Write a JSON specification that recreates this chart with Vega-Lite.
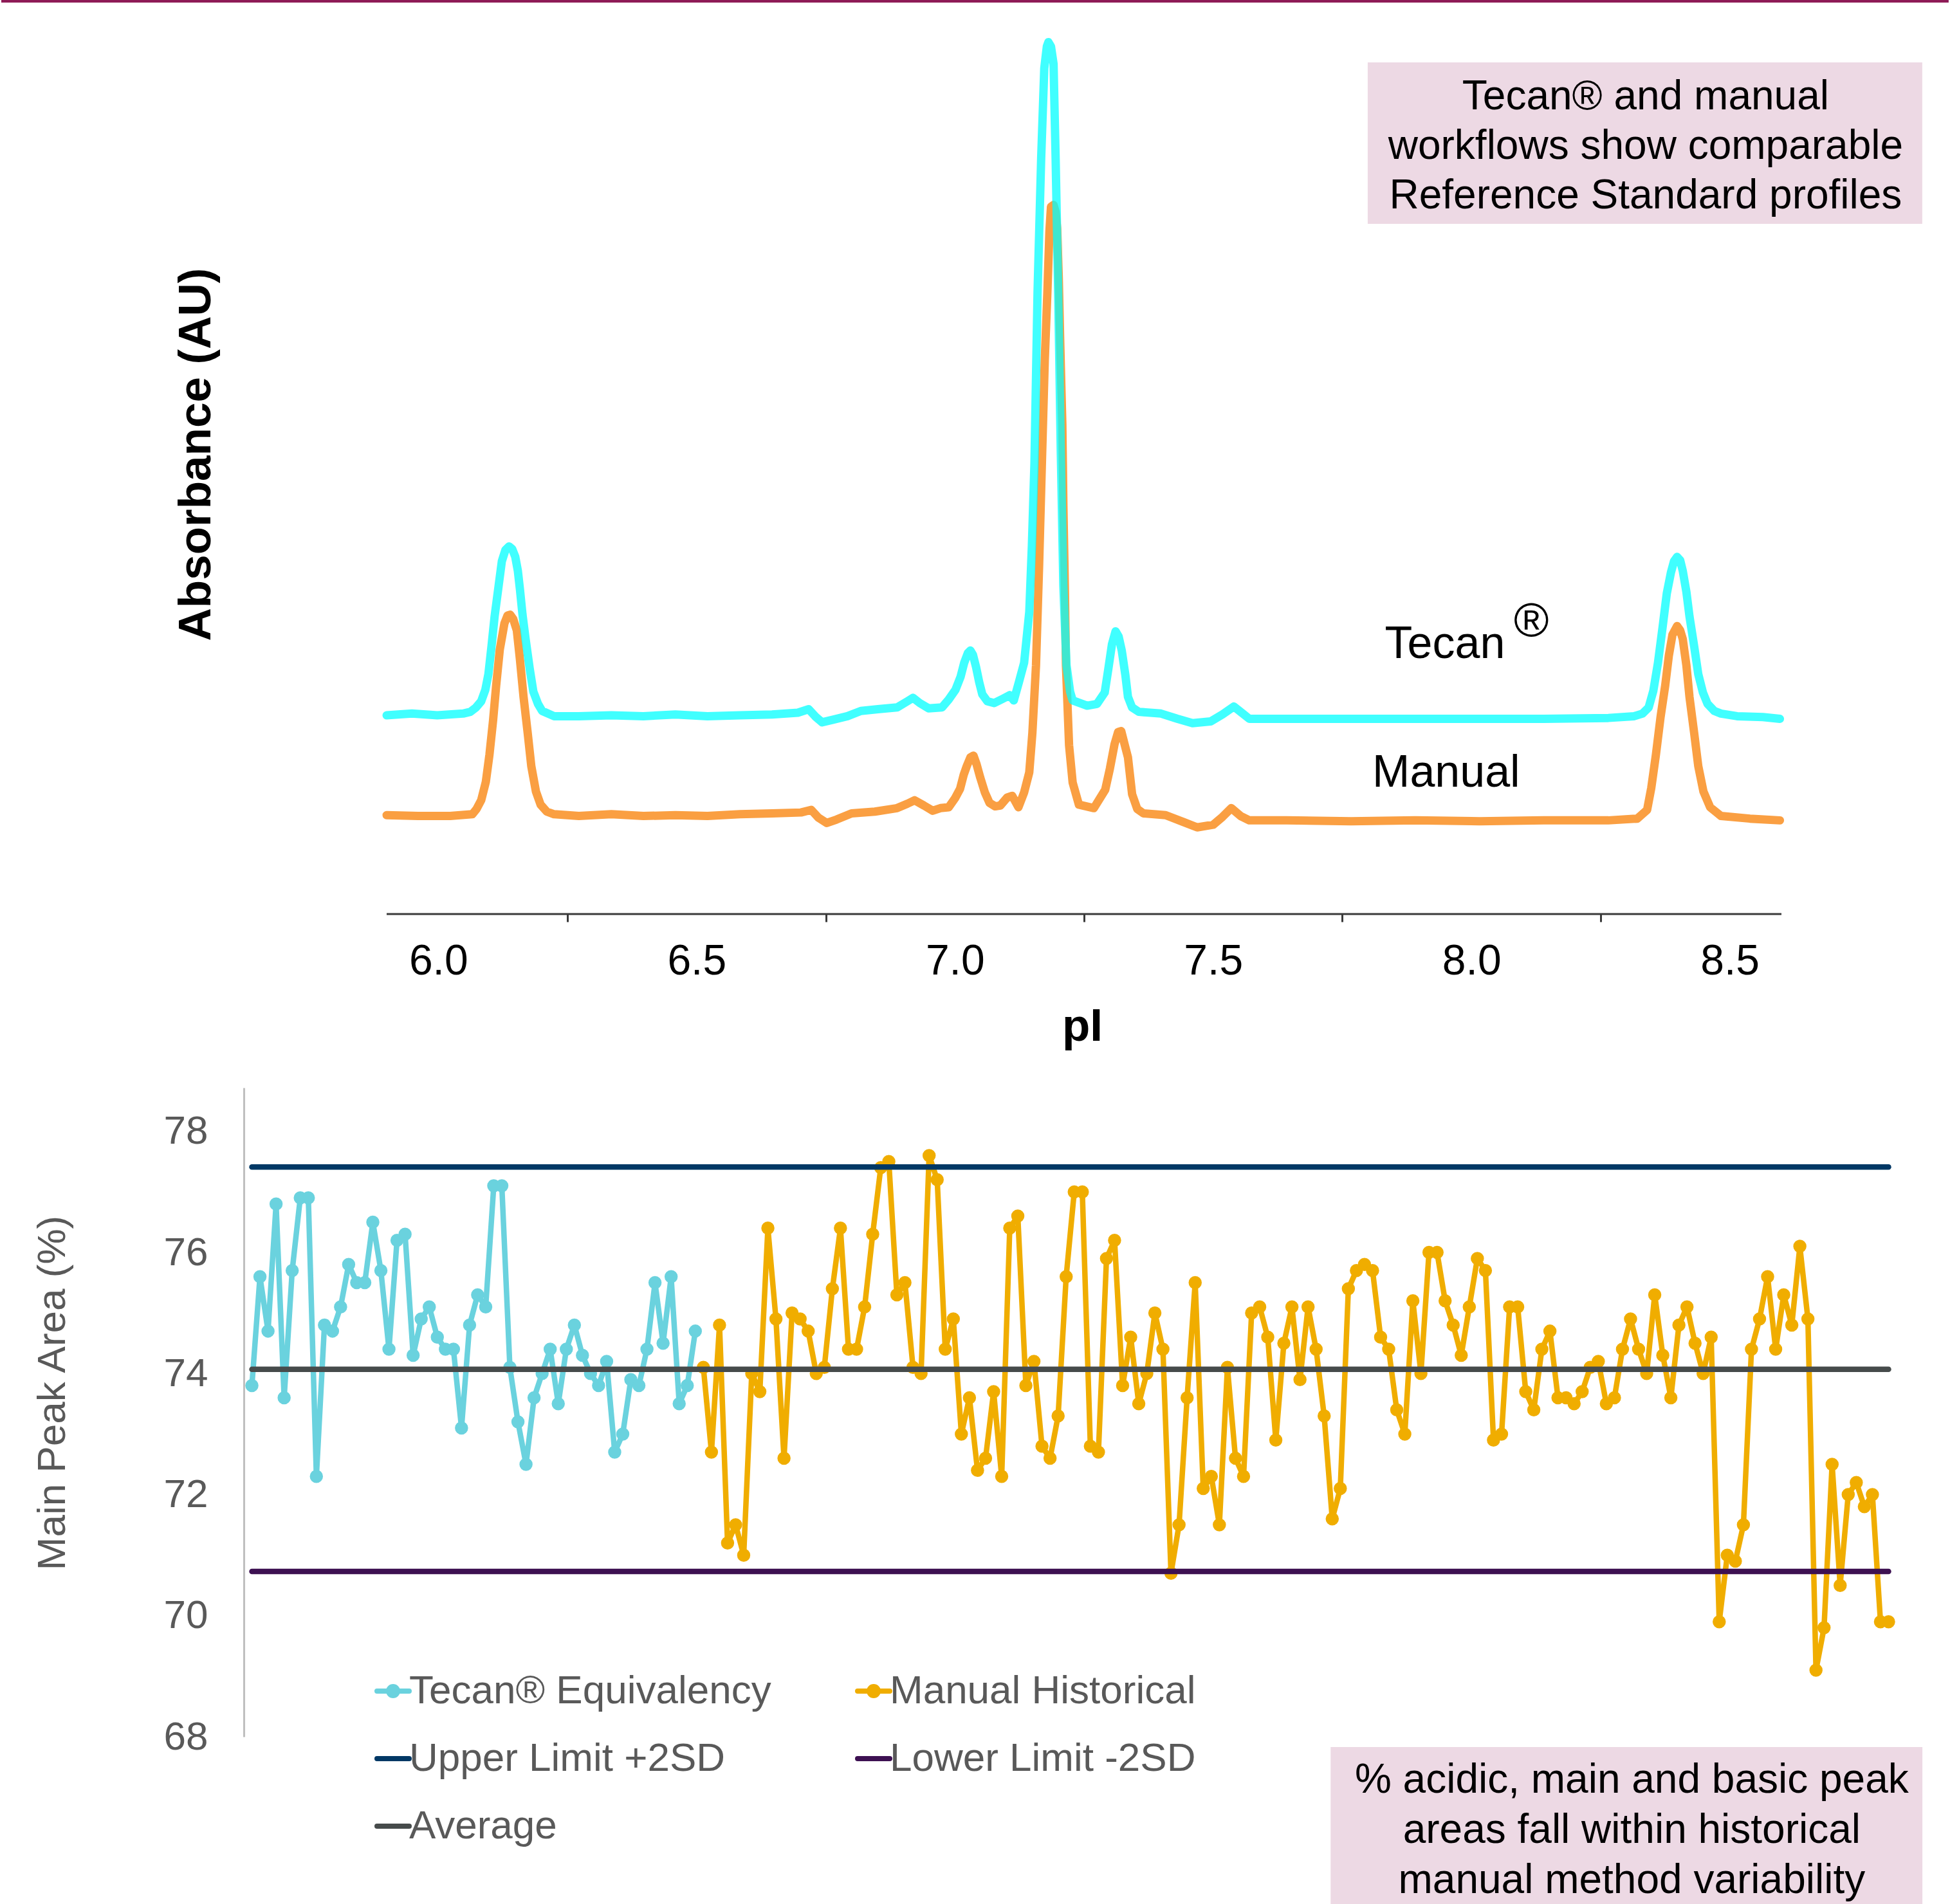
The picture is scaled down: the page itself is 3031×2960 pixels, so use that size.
{
"$schema": "https://vega.github.io/schema/vega-lite/v6.json",
"background": "white",
"padding": 0,
"autosize": {"type": "pad"},
"bounds": "flush",
"spacing": 270,
"config": {"font": "Liberation Sans", "view": {"stroke": null}, "axis": {"grid": false, "labelFont": "Liberation Sans", "titleFont": "Liberation Sans"}, "legend": {"labelFont": "Liberation Sans"}},
"resolve": {"scale": {"color": "independent"}, "legend": {"color": "independent"}},
"datasets": {
"trace": [
{"run":"Manual","pI":5.900,"au":0.113},{"run":"Manual","pI":5.961,"au":0.112},{"run":"Manual","pI":6.023,"au":0.112},{"run":"Manual","pI":6.066,"au":0.114},{"run":"Manual","pI":6.074,"au":0.120},{"run":"Manual","pI":6.083,"au":0.130},{"run":"Manual","pI":6.092,"au":0.151},{"run":"Manual","pI":6.099,"au":0.182},{"run":"Manual","pI":6.106,"au":0.221},{"run":"Manual","pI":6.112,"au":0.261},{"run":"Manual","pI":6.119,"au":0.302},{"run":"Manual","pI":6.128,"au":0.332},{"run":"Manual","pI":6.134,"au":0.341},{"run":"Manual","pI":6.139,"au":0.342},{"run":"Manual","pI":6.145,"au":0.337},{"run":"Manual","pI":6.152,"au":0.324},{"run":"Manual","pI":6.158,"au":0.291},{"run":"Manual","pI":6.165,"au":0.248},{"run":"Manual","pI":6.173,"au":0.207},{"run":"Manual","pI":6.180,"au":0.169},{"run":"Manual","pI":6.189,"au":0.140},{"run":"Manual","pI":6.198,"au":0.125},{"run":"Manual","pI":6.210,"au":0.117},{"run":"Manual","pI":6.224,"au":0.114},{"run":"Manual","pI":6.272,"au":0.112},{"run":"Manual","pI":6.335,"au":0.114},{"run":"Manual","pI":6.397,"au":0.112},{"run":"Manual","pI":6.459,"au":0.113},{"run":"Manual","pI":6.521,"au":0.112},{"run":"Manual","pI":6.584,"au":0.114},{"run":"Manual","pI":6.646,"au":0.115},{"run":"Manual","pI":6.702,"au":0.116},{"run":"Manual","pI":6.722,"au":0.119},{"run":"Manual","pI":6.736,"au":0.110},{"run":"Manual","pI":6.752,"au":0.104},{"run":"Manual","pI":6.771,"au":0.108},{"run":"Manual","pI":6.800,"au":0.115},{"run":"Manual","pI":6.845,"au":0.117},{"run":"Manual","pI":6.888,"au":0.121},{"run":"Manual","pI":6.908,"au":0.126},{"run":"Manual","pI":6.922,"au":0.130},{"run":"Manual","pI":6.940,"au":0.124},{"run":"Manual","pI":6.957,"au":0.118},{"run":"Manual","pI":6.972,"au":0.121},{"run":"Manual","pI":6.988,"au":0.122},{"run":"Manual","pI":7.000,"au":0.132},{"run":"Manual","pI":7.010,"au":0.143},{"run":"Manual","pI":7.017,"au":0.159},{"run":"Manual","pI":7.023,"au":0.169},{"run":"Manual","pI":7.030,"au":0.179},{"run":"Manual","pI":7.036,"au":0.181},{"run":"Manual","pI":7.042,"au":0.171},{"run":"Manual","pI":7.049,"au":0.156},{"run":"Manual","pI":7.058,"au":0.139},{"run":"Manual","pI":7.067,"au":0.127},{"run":"Manual","pI":7.078,"au":0.123},{"run":"Manual","pI":7.088,"au":0.124},{"run":"Manual","pI":7.101,"au":0.133},{"run":"Manual","pI":7.111,"au":0.135},{"run":"Manual","pI":7.123,"au":0.122},{"run":"Manual","pI":7.134,"au":0.139},{"run":"Manual","pI":7.144,"au":0.162},{"run":"Manual","pI":7.150,"au":0.207},{"run":"Manual","pI":7.157,"au":0.284},{"run":"Manual","pI":7.163,"au":0.398},{"run":"Manual","pI":7.169,"au":0.528},{"run":"Manual","pI":7.174,"au":0.633},{"run":"Manual","pI":7.179,"au":0.710},{"run":"Manual","pI":7.183,"au":0.780},{"run":"Manual","pI":7.186,"au":0.808},{"run":"Manual","pI":7.191,"au":0.810},{"run":"Manual","pI":7.195,"au":0.802},{"run":"Manual","pI":7.198,"au":0.783},{"run":"Manual","pI":7.201,"au":0.728},{"run":"Manual","pI":7.204,"au":0.650},{"run":"Manual","pI":7.208,"au":0.559},{"run":"Manual","pI":7.210,"au":0.467},{"run":"Manual","pI":7.213,"au":0.368},{"run":"Manual","pI":7.215,"au":0.284},{"run":"Manual","pI":7.221,"au":0.193},{"run":"Manual","pI":7.228,"au":0.150},{"run":"Manual","pI":7.240,"au":0.125},{"run":"Manual","pI":7.269,"au":0.121},{"run":"Manual","pI":7.291,"au":0.142},{"run":"Manual","pI":7.300,"au":0.166},{"run":"Manual","pI":7.309,"au":0.194},{"run":"Manual","pI":7.316,"au":0.208},{"run":"Manual","pI":7.322,"au":0.209},{"run":"Manual","pI":7.328,"au":0.195},{"run":"Manual","pI":7.335,"au":0.179},{"run":"Manual","pI":7.343,"au":0.137},{"run":"Manual","pI":7.353,"au":0.120},{"run":"Manual","pI":7.365,"au":0.115},{"run":"Manual","pI":7.408,"au":0.113},{"run":"Manual","pI":7.443,"au":0.105},{"run":"Manual","pI":7.469,"au":0.099},{"run":"Manual","pI":7.500,"au":0.102},{"run":"Manual","pI":7.518,"au":0.111},{"run":"Manual","pI":7.535,"au":0.121},{"run":"Manual","pI":7.553,"au":0.112},{"run":"Manual","pI":7.570,"au":0.107},{"run":"Manual","pI":7.642,"au":0.107},{"run":"Manual","pI":7.767,"au":0.106},{"run":"Manual","pI":7.891,"au":0.107},{"run":"Manual","pI":8.016,"au":0.106},{"run":"Manual","pI":8.140,"au":0.107},{"run":"Manual","pI":8.265,"au":0.107},{"run":"Manual","pI":8.321,"au":0.109},{"run":"Manual","pI":8.340,"au":0.119},{"run":"Manual","pI":8.348,"au":0.144},{"run":"Manual","pI":8.357,"au":0.182},{"run":"Manual","pI":8.366,"au":0.225},{"run":"Manual","pI":8.375,"au":0.261},{"run":"Manual","pI":8.382,"au":0.295},{"run":"Manual","pI":8.389,"au":0.319},{"run":"Manual","pI":8.398,"au":0.329},{"run":"Manual","pI":8.404,"au":0.324},{"run":"Manual","pI":8.409,"au":0.314},{"run":"Manual","pI":8.416,"au":0.284},{"run":"Manual","pI":8.422,"au":0.248},{"run":"Manual","pI":8.431,"au":0.207},{"run":"Manual","pI":8.439,"au":0.169},{"run":"Manual","pI":8.449,"au":0.140},{"run":"Manual","pI":8.462,"au":0.122},{"run":"Manual","pI":8.483,"au":0.112},{"run":"Manual","pI":8.539,"au":0.109},{"run":"Manual","pI":8.597,"au":0.107},
{"run":"Tecan","pI":5.900,"au":0.227},{"run":"Tecan","pI":5.949,"au":0.229},{"run":"Tecan","pI":5.998,"au":0.227},{"run":"Tecan","pI":6.048,"au":0.229},{"run":"Tecan","pI":6.062,"au":0.231},{"run":"Tecan","pI":6.073,"au":0.236},{"run":"Tecan","pI":6.083,"au":0.243},{"run":"Tecan","pI":6.091,"au":0.256},{"run":"Tecan","pI":6.097,"au":0.274},{"run":"Tecan","pI":6.103,"au":0.306},{"run":"Tecan","pI":6.109,"au":0.340},{"run":"Tecan","pI":6.117,"au":0.376},{"run":"Tecan","pI":6.123,"au":0.403},{"run":"Tecan","pI":6.130,"au":0.416},{"run":"Tecan","pI":6.137,"au":0.420},{"run":"Tecan","pI":6.143,"au":0.417},{"run":"Tecan","pI":6.149,"au":0.408},{"run":"Tecan","pI":6.154,"au":0.392},{"run":"Tecan","pI":6.158,"au":0.371},{"run":"Tecan","pI":6.163,"au":0.342},{"run":"Tecan","pI":6.169,"au":0.314},{"run":"Tecan","pI":6.177,"au":0.280},{"run":"Tecan","pI":6.184,"au":0.254},{"run":"Tecan","pI":6.193,"au":0.240},{"run":"Tecan","pI":6.201,"au":0.232},{"run":"Tecan","pI":6.224,"au":0.226},{"run":"Tecan","pI":6.272,"au":0.226},{"run":"Tecan","pI":6.335,"au":0.227},{"run":"Tecan","pI":6.397,"au":0.226},{"run":"Tecan","pI":6.459,"au":0.228},{"run":"Tecan","pI":6.521,"au":0.226},{"run":"Tecan","pI":6.584,"au":0.227},{"run":"Tecan","pI":6.646,"au":0.228},{"run":"Tecan","pI":6.696,"au":0.230},{"run":"Tecan","pI":6.717,"au":0.234},{"run":"Tecan","pI":6.731,"au":0.225},{"run":"Tecan","pI":6.743,"au":0.219},{"run":"Tecan","pI":6.764,"au":0.222},{"run":"Tecan","pI":6.792,"au":0.226},{"run":"Tecan","pI":6.818,"au":0.232},{"run":"Tecan","pI":6.851,"au":0.234},{"run":"Tecan","pI":6.888,"au":0.236},{"run":"Tecan","pI":6.908,"au":0.243},{"run":"Tecan","pI":6.919,"au":0.247},{"run":"Tecan","pI":6.932,"au":0.241},{"run":"Tecan","pI":6.949,"au":0.235},{"run":"Tecan","pI":6.975,"au":0.236},{"run":"Tecan","pI":6.988,"au":0.245},{"run":"Tecan","pI":7.001,"au":0.256},{"run":"Tecan","pI":7.011,"au":0.271},{"run":"Tecan","pI":7.018,"au":0.287},{"run":"Tecan","pI":7.025,"au":0.298},{"run":"Tecan","pI":7.030,"au":0.301},{"run":"Tecan","pI":7.035,"au":0.296},{"run":"Tecan","pI":7.041,"au":0.282},{"run":"Tecan","pI":7.047,"au":0.265},{"run":"Tecan","pI":7.053,"au":0.251},{"run":"Tecan","pI":7.063,"au":0.243},{"run":"Tecan","pI":7.076,"au":0.241},{"run":"Tecan","pI":7.093,"au":0.246},{"run":"Tecan","pI":7.106,"au":0.250},{"run":"Tecan","pI":7.114,"au":0.244},{"run":"Tecan","pI":7.124,"au":0.265},{"run":"Tecan","pI":7.134,"au":0.287},{"run":"Tecan","pI":7.144,"au":0.345},{"run":"Tecan","pI":7.149,"au":0.420},{"run":"Tecan","pI":7.154,"au":0.515},{"run":"Tecan","pI":7.160,"au":0.710},{"run":"Tecan","pI":7.167,"au":0.863},{"run":"Tecan","pI":7.173,"au":0.966},{"run":"Tecan","pI":7.178,"au":0.991},{"run":"Tecan","pI":7.181,"au":0.996},{"run":"Tecan","pI":7.186,"au":0.991},{"run":"Tecan","pI":7.191,"au":0.971},{"run":"Tecan","pI":7.195,"au":0.863},{"run":"Tecan","pI":7.200,"au":0.710},{"run":"Tecan","pI":7.205,"au":0.528},{"run":"Tecan","pI":7.210,"au":0.375},{"run":"Tecan","pI":7.216,"au":0.284},{"run":"Tecan","pI":7.223,"au":0.254},{"run":"Tecan","pI":7.228,"au":0.244},{"run":"Tecan","pI":7.256,"au":0.238},{"run":"Tecan","pI":7.275,"au":0.240},{"run":"Tecan","pI":7.290,"au":0.253},{"run":"Tecan","pI":7.297,"au":0.280},{"run":"Tecan","pI":7.304,"au":0.308},{"run":"Tecan","pI":7.311,"au":0.323},{"run":"Tecan","pI":7.317,"au":0.317},{"run":"Tecan","pI":7.323,"au":0.301},{"run":"Tecan","pI":7.330,"au":0.273},{"run":"Tecan","pI":7.335,"au":0.248},{"run":"Tecan","pI":7.343,"au":0.236},{"run":"Tecan","pI":7.356,"au":0.231},{"run":"Tecan","pI":7.399,"au":0.229},{"run":"Tecan","pI":7.431,"au":0.223},{"run":"Tecan","pI":7.460,"au":0.218},{"run":"Tecan","pI":7.495,"au":0.220},{"run":"Tecan","pI":7.518,"au":0.228},{"run":"Tecan","pI":7.540,"au":0.237},{"run":"Tecan","pI":7.555,"au":0.230},{"run":"Tecan","pI":7.570,"au":0.223},{"run":"Tecan","pI":7.642,"au":0.223},{"run":"Tecan","pI":7.767,"au":0.223},{"run":"Tecan","pI":7.891,"au":0.223},{"run":"Tecan","pI":8.016,"au":0.223},{"run":"Tecan","pI":8.140,"au":0.223},{"run":"Tecan","pI":8.265,"au":0.224},{"run":"Tecan","pI":8.315,"au":0.226},{"run":"Tecan","pI":8.331,"au":0.229},{"run":"Tecan","pI":8.343,"au":0.236},{"run":"Tecan","pI":8.352,"au":0.255},{"run":"Tecan","pI":8.361,"au":0.287},{"run":"Tecan","pI":8.370,"au":0.328},{"run":"Tecan","pI":8.378,"au":0.366},{"run":"Tecan","pI":8.386,"au":0.390},{"run":"Tecan","pI":8.392,"au":0.403},{"run":"Tecan","pI":8.398,"au":0.408},{"run":"Tecan","pI":8.404,"au":0.404},{"run":"Tecan","pI":8.409,"au":0.392},{"run":"Tecan","pI":8.416,"au":0.368},{"run":"Tecan","pI":8.422,"au":0.340},{"run":"Tecan","pI":8.431,"au":0.306},{"run":"Tecan","pI":8.439,"au":0.274},{"run":"Tecan","pI":8.448,"au":0.253},{"run":"Tecan","pI":8.457,"au":0.240},{"run":"Tecan","pI":8.470,"au":0.232},{"run":"Tecan","pI":8.483,"au":0.229},{"run":"Tecan","pI":8.514,"au":0.226},{"run":"Tecan","pI":8.564,"au":0.225},{"run":"Tecan","pI":8.597,"au":0.223}
],
"control": [
{"index":1,"area":73.8,"series":"Tecan® Equivalency"},{"index":2,"area":75.6,"series":"Tecan® Equivalency"},{"index":3,"area":74.7,"series":"Tecan® Equivalency"},{"index":4,"area":76.8,"series":"Tecan® Equivalency"},{"index":5,"area":73.6,"series":"Tecan® Equivalency"},{"index":6,"area":75.7,"series":"Tecan® Equivalency"},{"index":7,"area":76.9,"series":"Tecan® Equivalency"},{"index":8,"area":76.9,"series":"Tecan® Equivalency"},{"index":9,"area":72.3,"series":"Tecan® Equivalency"},{"index":10,"area":74.8,"series":"Tecan® Equivalency"},
{"index":11,"area":74.7,"series":"Tecan® Equivalency"},{"index":12,"area":75.1,"series":"Tecan® Equivalency"},{"index":13,"area":75.8,"series":"Tecan® Equivalency"},{"index":14,"area":75.5,"series":"Tecan® Equivalency"},{"index":15,"area":75.5,"series":"Tecan® Equivalency"},{"index":16,"area":76.5,"series":"Tecan® Equivalency"},{"index":17,"area":75.7,"series":"Tecan® Equivalency"},{"index":18,"area":74.4,"series":"Tecan® Equivalency"},{"index":19,"area":76.2,"series":"Tecan® Equivalency"},{"index":20,"area":76.3,"series":"Tecan® Equivalency"},
{"index":21,"area":74.3,"series":"Tecan® Equivalency"},{"index":22,"area":74.9,"series":"Tecan® Equivalency"},{"index":23,"area":75.1,"series":"Tecan® Equivalency"},{"index":24,"area":74.6,"series":"Tecan® Equivalency"},{"index":25,"area":74.4,"series":"Tecan® Equivalency"},{"index":26,"area":74.4,"series":"Tecan® Equivalency"},{"index":27,"area":73.1,"series":"Tecan® Equivalency"},{"index":28,"area":74.8,"series":"Tecan® Equivalency"},{"index":29,"area":75.3,"series":"Tecan® Equivalency"},{"index":30,"area":75.1,"series":"Tecan® Equivalency"},
{"index":31,"area":77.1,"series":"Tecan® Equivalency"},{"index":32,"area":77.1,"series":"Tecan® Equivalency"},{"index":33,"area":74.1,"series":"Tecan® Equivalency"},{"index":34,"area":73.2,"series":"Tecan® Equivalency"},{"index":35,"area":72.5,"series":"Tecan® Equivalency"},{"index":36,"area":73.6,"series":"Tecan® Equivalency"},{"index":37,"area":74.0,"series":"Tecan® Equivalency"},{"index":38,"area":74.4,"series":"Tecan® Equivalency"},{"index":39,"area":73.5,"series":"Tecan® Equivalency"},{"index":40,"area":74.4,"series":"Tecan® Equivalency"},
{"index":41,"area":74.8,"series":"Tecan® Equivalency"},{"index":42,"area":74.3,"series":"Tecan® Equivalency"},{"index":43,"area":74.0,"series":"Tecan® Equivalency"},{"index":44,"area":73.8,"series":"Tecan® Equivalency"},{"index":45,"area":74.2,"series":"Tecan® Equivalency"},{"index":46,"area":72.7,"series":"Tecan® Equivalency"},{"index":47,"area":73.0,"series":"Tecan® Equivalency"},{"index":48,"area":73.9,"series":"Tecan® Equivalency"},{"index":49,"area":73.8,"series":"Tecan® Equivalency"},{"index":50,"area":74.4,"series":"Tecan® Equivalency"},
{"index":51,"area":75.5,"series":"Tecan® Equivalency"},{"index":52,"area":74.5,"series":"Tecan® Equivalency"},{"index":53,"area":75.6,"series":"Tecan® Equivalency"},{"index":54,"area":73.5,"series":"Tecan® Equivalency"},{"index":55,"area":73.8,"series":"Tecan® Equivalency"},{"index":56,"area":74.7,"series":"Tecan® Equivalency"},
{"index":57,"area":74.1,"series":"Manual Historical"},{"index":58,"area":72.7,"series":"Manual Historical"},{"index":59,"area":74.8,"series":"Manual Historical"},{"index":60,"area":71.2,"series":"Manual Historical"},{"index":61,"area":71.5,"series":"Manual Historical"},{"index":62,"area":71.0,"series":"Manual Historical"},{"index":63,"area":74.0,"series":"Manual Historical"},{"index":64,"area":73.7,"series":"Manual Historical"},{"index":65,"area":76.4,"series":"Manual Historical"},{"index":66,"area":74.9,"series":"Manual Historical"},
{"index":67,"area":72.6,"series":"Manual Historical"},{"index":68,"area":75.0,"series":"Manual Historical"},{"index":69,"area":74.9,"series":"Manual Historical"},{"index":70,"area":74.7,"series":"Manual Historical"},{"index":71,"area":74.0,"series":"Manual Historical"},{"index":72,"area":74.1,"series":"Manual Historical"},{"index":73,"area":75.4,"series":"Manual Historical"},{"index":74,"area":76.4,"series":"Manual Historical"},{"index":75,"area":74.4,"series":"Manual Historical"},{"index":76,"area":74.4,"series":"Manual Historical"},
{"index":77,"area":75.1,"series":"Manual Historical"},{"index":78,"area":76.3,"series":"Manual Historical"},{"index":79,"area":77.4,"series":"Manual Historical"},{"index":80,"area":77.5,"series":"Manual Historical"},{"index":81,"area":75.3,"series":"Manual Historical"},{"index":82,"area":75.5,"series":"Manual Historical"},{"index":83,"area":74.1,"series":"Manual Historical"},{"index":84,"area":74.0,"series":"Manual Historical"},{"index":85,"area":77.6,"series":"Manual Historical"},{"index":86,"area":77.2,"series":"Manual Historical"},
{"index":87,"area":74.4,"series":"Manual Historical"},{"index":88,"area":74.9,"series":"Manual Historical"},{"index":89,"area":73.0,"series":"Manual Historical"},{"index":90,"area":73.6,"series":"Manual Historical"},{"index":91,"area":72.4,"series":"Manual Historical"},{"index":92,"area":72.6,"series":"Manual Historical"},{"index":93,"area":73.7,"series":"Manual Historical"},{"index":94,"area":72.3,"series":"Manual Historical"},{"index":95,"area":76.4,"series":"Manual Historical"},{"index":96,"area":76.6,"series":"Manual Historical"},
{"index":97,"area":73.8,"series":"Manual Historical"},{"index":98,"area":74.2,"series":"Manual Historical"},{"index":99,"area":72.8,"series":"Manual Historical"},{"index":100,"area":72.6,"series":"Manual Historical"},{"index":101,"area":73.3,"series":"Manual Historical"},{"index":102,"area":75.6,"series":"Manual Historical"},{"index":103,"area":77.0,"series":"Manual Historical"},{"index":104,"area":77.0,"series":"Manual Historical"},{"index":105,"area":72.8,"series":"Manual Historical"},{"index":106,"area":72.7,"series":"Manual Historical"},
{"index":107,"area":75.9,"series":"Manual Historical"},{"index":108,"area":76.2,"series":"Manual Historical"},{"index":109,"area":73.8,"series":"Manual Historical"},{"index":110,"area":74.6,"series":"Manual Historical"},{"index":111,"area":73.5,"series":"Manual Historical"},{"index":112,"area":74.0,"series":"Manual Historical"},{"index":113,"area":75.0,"series":"Manual Historical"},{"index":114,"area":74.4,"series":"Manual Historical"},{"index":115,"area":70.7,"series":"Manual Historical"},{"index":116,"area":71.5,"series":"Manual Historical"},
{"index":117,"area":73.6,"series":"Manual Historical"},{"index":118,"area":75.5,"series":"Manual Historical"},{"index":119,"area":72.1,"series":"Manual Historical"},{"index":120,"area":72.3,"series":"Manual Historical"},{"index":121,"area":71.5,"series":"Manual Historical"},{"index":122,"area":74.1,"series":"Manual Historical"},{"index":123,"area":72.6,"series":"Manual Historical"},{"index":124,"area":72.3,"series":"Manual Historical"},{"index":125,"area":75.0,"series":"Manual Historical"},{"index":126,"area":75.1,"series":"Manual Historical"},
{"index":127,"area":74.6,"series":"Manual Historical"},{"index":128,"area":72.9,"series":"Manual Historical"},{"index":129,"area":74.5,"series":"Manual Historical"},{"index":130,"area":75.1,"series":"Manual Historical"},{"index":131,"area":73.9,"series":"Manual Historical"},{"index":132,"area":75.1,"series":"Manual Historical"},{"index":133,"area":74.4,"series":"Manual Historical"},{"index":134,"area":73.3,"series":"Manual Historical"},{"index":135,"area":71.6,"series":"Manual Historical"},{"index":136,"area":72.1,"series":"Manual Historical"},
{"index":137,"area":75.4,"series":"Manual Historical"},{"index":138,"area":75.7,"series":"Manual Historical"},{"index":139,"area":75.8,"series":"Manual Historical"},{"index":140,"area":75.7,"series":"Manual Historical"},{"index":141,"area":74.6,"series":"Manual Historical"},{"index":142,"area":74.4,"series":"Manual Historical"},{"index":143,"area":73.4,"series":"Manual Historical"},{"index":144,"area":73.0,"series":"Manual Historical"},{"index":145,"area":75.2,"series":"Manual Historical"},{"index":146,"area":74.0,"series":"Manual Historical"},
{"index":147,"area":76.0,"series":"Manual Historical"},{"index":148,"area":76.0,"series":"Manual Historical"},{"index":149,"area":75.2,"series":"Manual Historical"},{"index":150,"area":74.8,"series":"Manual Historical"},{"index":151,"area":74.3,"series":"Manual Historical"},{"index":152,"area":75.1,"series":"Manual Historical"},{"index":153,"area":75.9,"series":"Manual Historical"},{"index":154,"area":75.7,"series":"Manual Historical"},{"index":155,"area":72.9,"series":"Manual Historical"},{"index":156,"area":73.0,"series":"Manual Historical"},
{"index":157,"area":75.1,"series":"Manual Historical"},{"index":158,"area":75.1,"series":"Manual Historical"},{"index":159,"area":73.7,"series":"Manual Historical"},{"index":160,"area":73.4,"series":"Manual Historical"},{"index":161,"area":74.4,"series":"Manual Historical"},{"index":162,"area":74.7,"series":"Manual Historical"},{"index":163,"area":73.6,"series":"Manual Historical"},{"index":164,"area":73.6,"series":"Manual Historical"},{"index":165,"area":73.5,"series":"Manual Historical"},{"index":166,"area":73.7,"series":"Manual Historical"},
{"index":167,"area":74.1,"series":"Manual Historical"},{"index":168,"area":74.2,"series":"Manual Historical"},{"index":169,"area":73.5,"series":"Manual Historical"},{"index":170,"area":73.6,"series":"Manual Historical"},{"index":171,"area":74.4,"series":"Manual Historical"},{"index":172,"area":74.9,"series":"Manual Historical"},{"index":173,"area":74.4,"series":"Manual Historical"},{"index":174,"area":74.0,"series":"Manual Historical"},{"index":175,"area":75.3,"series":"Manual Historical"},{"index":176,"area":74.3,"series":"Manual Historical"},
{"index":177,"area":73.6,"series":"Manual Historical"},{"index":178,"area":74.8,"series":"Manual Historical"},{"index":179,"area":75.1,"series":"Manual Historical"},{"index":180,"area":74.5,"series":"Manual Historical"},{"index":181,"area":74.0,"series":"Manual Historical"},{"index":182,"area":74.6,"series":"Manual Historical"},{"index":183,"area":69.9,"series":"Manual Historical"},{"index":184,"area":71.0,"series":"Manual Historical"},{"index":185,"area":70.9,"series":"Manual Historical"},{"index":186,"area":71.5,"series":"Manual Historical"},
{"index":187,"area":74.4,"series":"Manual Historical"},{"index":188,"area":74.9,"series":"Manual Historical"},{"index":189,"area":75.6,"series":"Manual Historical"},{"index":190,"area":74.4,"series":"Manual Historical"},{"index":191,"area":75.3,"series":"Manual Historical"},{"index":192,"area":74.8,"series":"Manual Historical"},{"index":193,"area":76.1,"series":"Manual Historical"},{"index":194,"area":74.9,"series":"Manual Historical"},{"index":195,"area":69.1,"series":"Manual Historical"},{"index":196,"area":69.8,"series":"Manual Historical"},
{"index":197,"area":72.5,"series":"Manual Historical"},{"index":198,"area":70.5,"series":"Manual Historical"},{"index":199,"area":72.0,"series":"Manual Historical"},{"index":200,"area":72.2,"series":"Manual Historical"},{"index":201,"area":71.8,"series":"Manual Historical"},{"index":202,"area":72.0,"series":"Manual Historical"},{"index":203,"area":69.9,"series":"Manual Historical"},{"index":204,"area":69.9,"series":"Manual Historical"}
],
"limits": [
{"series":"Upper Limit +2SD","area":77.41},
{"series":"Lower Limit -2SD","area":70.73},
{"series":"Average","area":74.07}
]
},
"vconcat": [
{
"width": 2390,
"height": 1361,
"layer": [
{"data": {"values": [{}]}, "mark": {"type": "rule", "color": "#8E1B57", "strokeWidth": 4}, "encoding": {"x": {"datum": 5.15405, "type": "quantitative", "scale": {"domain": [5.62354, 8.6], "nice": false, "zero": false}}, "x2": {"datum": 8.92366}, "y": {"datum": 1.0426, "type": "quantitative", "scale": {"domain": [0, 1], "nice": false, "zero": false}}}},
{"data": {"values": [{}]}, "mark": {"type": "rect", "color": "#EDD9E4"}, "encoding": {"x": {"datum": 7.7991, "type": "quantitative", "scale": {"domain": [5.62354, 8.6], "nice": false, "zero": false}}, "x2": {"datum": 8.8726}, "y": {"datum": 0.9728, "type": "quantitative", "scale": {"domain": [0, 1], "nice": false, "zero": false}}, "y2": {"datum": 0.7884}}},
{"data": {"values": [{}]}, "mark": {"type": "text", "font": "Liberation Sans", "fontSize": 64, "color": "#000000", "align": "center", "baseline": "middle", "lineHeight": 77}, "encoding": {"x": {"datum": 8.3371, "type": "quantitative", "scale": {"domain": [5.62354, 8.6], "nice": false, "zero": false}}, "y": {"datum": 0.9332, "type": "quantitative", "scale": {"domain": [0, 1], "nice": false, "zero": false}}, "text": {"value": ["Tecan® and manual", "workflows show comparable", "Reference Standard profiles"]}}},
{"data": {"name": "trace"}, "transform": [{"filter": "datum.run === 'Manual'"}], "mark": {"type": "line", "color": "#FA9F42", "strokeWidth": 13, "strokeJoin": "round", "strokeCap": "round"},
 "encoding": {
  "x": {"field": "pI", "type": "quantitative", "scale": {"domain": [5.62354, 8.6], "nice": false, "zero": false},
   "axis": {"values": [6, 6.25, 6.5, 6.75, 7, 7.25, 7.5, 7.75, 8, 8.25, 8.5], "labelExpr": "datum.value % 0.5 === 0 ? format(datum.value, '.1f') : ''", "domain": false, "ticks": true, "tickSize": 12, "tickWidth": 3, "tickColor": "#3A3A3A", "tickOpacity": {"condition": {"test": "datum.value % 0.5 === 0", "value": 0}, "value": 1}, "labelFontSize": 66, "labelColor": "#000000", "labelPadding": 61, "labelBaseline": "middle", "labelOverlap": false, "labelFlush": false, "grid": false, "title": "pI", "titleFontSize": 71, "titleFontWeight": "bold", "titleColor": "#000000", "titleX": 1303, "titleY": 175, "titleBaseline": "middle", "titleAlign": "center"}},
  "y": {"field": "au", "type": "quantitative", "scale": {"domain": [0, 1], "nice": false, "zero": false},
   "axis": {"labels": false, "ticks": false, "domain": false, "grid": false, "title": "Absorbance (AU)", "titleFontSize": 71, "titleFontWeight": "bold", "titleColor": "#000000", "titleX": -74, "titleY": 646, "titleBaseline": "middle", "titleAlign": "center", "titleAngle": -90}}
 }},
{"data": {"name": "trace"}, "transform": [{"filter": "datum.run === 'Tecan'"}], "mark": {"type": "line", "color": "#00FFFF", "opacity": 0.75, "strokeWidth": 13, "strokeJoin": "round", "strokeCap": "round"},
 "encoding": {
  "x": {"field": "pI", "type": "quantitative", "scale": {"domain": [5.62354, 8.6], "nice": false, "zero": false}},
  "y": {"field": "au", "type": "quantitative", "scale": {"domain": [0, 1], "nice": false, "zero": false}}
 }},
{"data": {"values": [{}]}, "mark": {"type": "rule", "color": "#3A3A3A", "strokeWidth": 3}, "encoding": {"x": {"datum": 5.9, "type": "quantitative", "scale": {"domain": [5.62354, 8.6], "nice": false, "zero": false}}, "x2": {"datum": 8.6}, "y": {"datum": 0, "type": "quantitative", "scale": {"domain": [0, 1], "nice": false, "zero": false}}}},
{"data": {"values": [{}]}, "mark": {"type": "text", "text": "Tecan", "font": "Liberation Sans", "fontSize": 70, "color": "#000000", "align": "center", "baseline": "alphabetic"}, "encoding": {"x": {"datum": 7.9486, "type": "quantitative", "scale": {"domain": [5.62354, 8.6], "nice": false, "zero": false}}, "y": {"datum": 0.2924, "type": "quantitative", "scale": {"domain": [0, 1], "nice": false, "zero": false}}}},
{"data": {"values": [{}]}, "mark": {"type": "text", "text": "®", "font": "Liberation Sans", "fontSize": 74, "color": "#000000", "align": "left", "baseline": "alphabetic"}, "encoding": {"x": {"datum": 8.0818, "type": "quantitative", "scale": {"domain": [5.62354, 8.6], "nice": false, "zero": false}}, "y": {"datum": 0.3174, "type": "quantitative", "scale": {"domain": [0, 1], "nice": false, "zero": false}}}},
{"data": {"values": [{}]}, "mark": {"type": "text", "text": "Manual", "font": "Liberation Sans", "fontSize": 70, "color": "#000000", "align": "center", "baseline": "alphabetic"}, "encoding": {"x": {"datum": 7.951, "type": "quantitative", "scale": {"domain": [5.62354, 8.6], "nice": false, "zero": false}}, "y": {"datum": 0.1455, "type": "quantitative", "scale": {"domain": [0, 1], "nice": false, "zero": false}}}}
]
},
{
"width": 2569,
"height": 1009,
"layer": [
{"data": {"name": "control"}, "mark": {"type": "line", "strokeWidth": 8.5, "strokeJoin": "round", "strokeCap": "round"},
 "encoding": {
  "x": {"field": "index", "type": "quantitative", "scale": {"domain": [0, 205], "nice": false, "zero": false}, "axis": null},
  "y": {"field": "area", "type": "quantitative", "scale": {"domain": [68, 78.72], "nice": false, "zero": false},
   "axis": {"values": [68, 70, 72, 74, 76, 78], "format": "d", "ticks": false, "domain": true, "domainColor": "#BFBFBF", "domainWidth": 3, "grid": false, "labelFontSize": 62, "labelColor": "#595959", "labelPadding": 56, "title": "Main Peak Area (%)", "titleFontSize": 62, "titleFontWeight": "normal", "titleColor": "#595959", "titleX": -298, "titleY": 474, "titleBaseline": "middle", "titleAlign": "center", "titleAngle": -90}},
  "color": {"field": "series", "type": "nominal",
   "scale": {"domain": ["Tecan® Equivalency", "Upper Limit +2SD", "Average", "Manual Historical", "Lower Limit -2SD"], "range": ["#6AD2DE", "#003865", "#464B4B", "#F0AD00", "#3D1152"]},
   "legend": {"orient": "none", "legendX": 201, "legendY": 907, "columns": 2, "columnPadding": 118, "rowPadding": 43, "title": null, "padding": 0, "labelFontSize": 62, "labelColor": "#595959", "labelOffset": -6, "labelLimit": 2000, "symbolSize": 2500, "symbolStrokeWidth": 8, "symbolType": "M-1,0L1,0",
    "encode": {"symbols": {"update": {"shape": {"signal": "(datum.value === 'Tecan® Equivalency' || datum.value === 'Manual Historical') ? 'M-1,0L1,0M-0.28,0A0.28,0.28,0,1,0,0.28,0A0.28,0.28,0,1,0,-0.28,0M-0.11,0A0.11,0.11,0,1,0,0.11,0A0.11,0.11,0,1,0,-0.11,0' : 'M-1,0L1,0'"}, "strokeCap": {"value": "round"}}}}}}
 }},
{"data": {"name": "control"}, "mark": {"type": "point", "filled": true, "opacity": 1, "size": 420},
 "encoding": {
  "x": {"field": "index", "type": "quantitative", "scale": {"domain": [0, 205], "nice": false, "zero": false}},
  "y": {"field": "area", "type": "quantitative", "scale": {"domain": [68, 78.72], "nice": false, "zero": false}},
  "color": {"field": "series", "type": "nominal", "scale": {"domain": ["Tecan® Equivalency", "Upper Limit +2SD", "Average", "Manual Historical", "Lower Limit -2SD"], "range": ["#6AD2DE", "#003865", "#464B4B", "#F0AD00", "#3D1152"]}, "legend": null}
 }},
{"data": {"name": "limits"}, "mark": {"type": "rule", "strokeWidth": 8.5, "strokeCap": "round"},
 "encoding": {
  "x": {"datum": 1, "type": "quantitative", "scale": {"domain": [0, 205], "nice": false, "zero": false}},
  "x2": {"datum": 204},
  "y": {"field": "area", "type": "quantitative", "scale": {"domain": [68, 78.72], "nice": false, "zero": false}},
  "color": {"field": "series", "type": "nominal", "scale": {"domain": ["Tecan® Equivalency", "Upper Limit +2SD", "Average", "Manual Historical", "Lower Limit -2SD"], "range": ["#6AD2DE", "#003865", "#464B4B", "#F0AD00", "#3D1152"]}, "legend": null}
 }},
{"data": {"values": [{}]}, "mark": {"type": "rect", "color": "#EDD9E4"}, "encoding": {"x": {"datum": 134.8, "type": "quantitative", "scale": {"domain": [0, 205], "nice": false, "zero": false}}, "x2": {"datum": 208.2}, "y": {"datum": 67.83, "type": "quantitative", "scale": {"domain": [68, 78.72], "nice": false, "zero": false}}, "y2": {"datum": 65.237}}},
{"data": {"values": [{}]}, "mark": {"type": "text", "font": "Liberation Sans", "fontSize": 64, "color": "#000000", "align": "center", "baseline": "middle", "lineHeight": 78}, "encoding": {"x": {"datum": 172.15, "type": "quantitative", "scale": {"domain": [0, 205], "nice": false, "zero": false}}, "y": {"datum": 67.277, "type": "quantitative", "scale": {"domain": [68, 78.72], "nice": false, "zero": false}}, "text": {"value": ["% acidic, main and basic peak", "areas fall within historical", "manual method variability"]}}}
]
}
]
}
